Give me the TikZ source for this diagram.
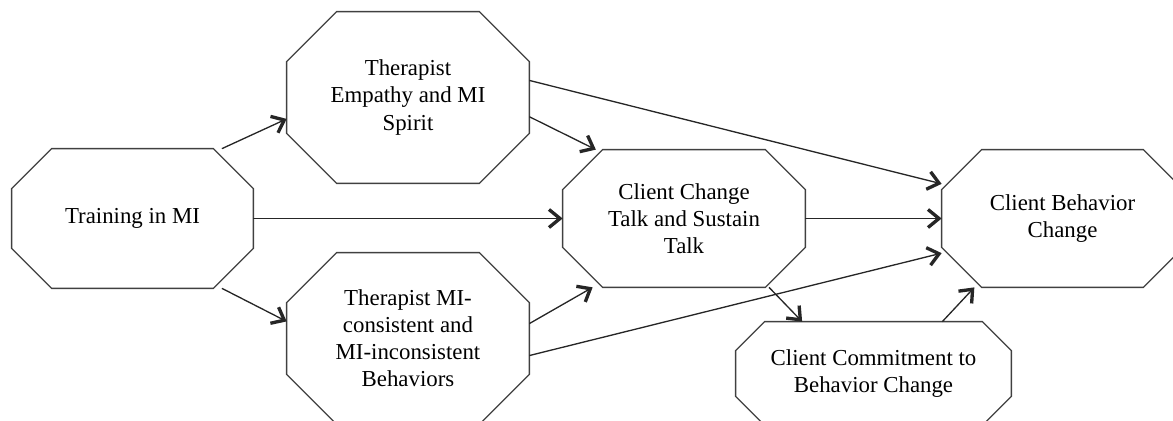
\documentclass[tikz,border=0pt]{standalone}
\usepackage{fontspec}
\setmainfont{Liberation Serif}
\usetikzlibrary{arrows.meta,calc}

\begin{document}
\begin{tikzpicture}[x=0.2mm, y=-0.2mm, >={Straight Barb[length=2.2mm, width=3.6mm, line width=1.9pt]},
  box/.style={rectangle, inner sep=0pt, align=center, font=\fontsize{13}{15.4}\selectfont},
  link/.style={->, line width=0.75pt, black!85},
  rim/.style={line width=0.75pt, black!75, line join=miter}]
  \useasboundingbox (0,0) rectangle (1173,421);
  \clip (0,0) rectangle (1173,421);
  % ---------------------------------------------------------------- boxes
  \node[box, minimum width=48.2mm, minimum height=27.8mm] (train) at (132.5,218.5) {Training in MI};
  \node[box, minimum width=48.4mm, minimum height=34.2mm] (emp) at (408,97.5) {Therapist\\Empathy and MI\\Spirit};
  \node[box, minimum width=48.4mm, minimum height=34.2mm] (cons) at (408,338.5) {Therapist MI-\\consistent and\\MI-inconsistent\\Behaviors};
  \node[box, minimum width=48.4mm, minimum height=27.4mm] (talk) at (684,218.5) {Client Change\\Talk and Sustain\\Talk};
  \node[box, minimum width=48.2mm, minimum height=27.4mm] (beh) at (1062.5,218.5) {Client Behavior\\Change};
  \node[box, minimum width=55mm, minimum height=20.6mm] (commit) at (873.5,373.5) {Client Commitment to\\Behavior Change};
  % octagon outlines
  \foreach \n/\c in {train/8mm, emp/10mm, cons/10mm, talk/8mm, beh/8mm, commit/5.8mm}
    \draw[rim] ($(\n.north west)+(\c,0mm)$) -- ($(\n.north east)+(-\c,0mm)$) -- ($(\n.north east)+(0mm,-\c)$)
      -- ($(\n.south east)+(0mm,\c)$) -- ($(\n.south east)+(-\c,0mm)$) -- ($(\n.south west)+(\c,0mm)$)
      -- ($(\n.south west)+(0mm,\c)$) -- ($(\n.north west)+(0mm,-\c)$) -- cycle;
  % ---------------------------------------------------------------- paths
  \draw[link] (train.38) -- (emp.190);
  \draw[link] (train.east) -- (talk.west);
  \draw[link] (train.-38) -- (cons.172);
  \draw[link] (emp.8) -- (beh.164);
  \draw[link] (emp.-9) -- (talk.142);
  \draw[link] (cons.7) -- (talk.217);
  \draw[link] (cons.-8) -- (beh.196);
  \draw[link] (talk.east) -- (beh.west);
  \draw[link] (talk.-39) -- (commit.144);
  \draw[link] (commit.37) -- (beh.218);
\end{tikzpicture}
\end{document}
